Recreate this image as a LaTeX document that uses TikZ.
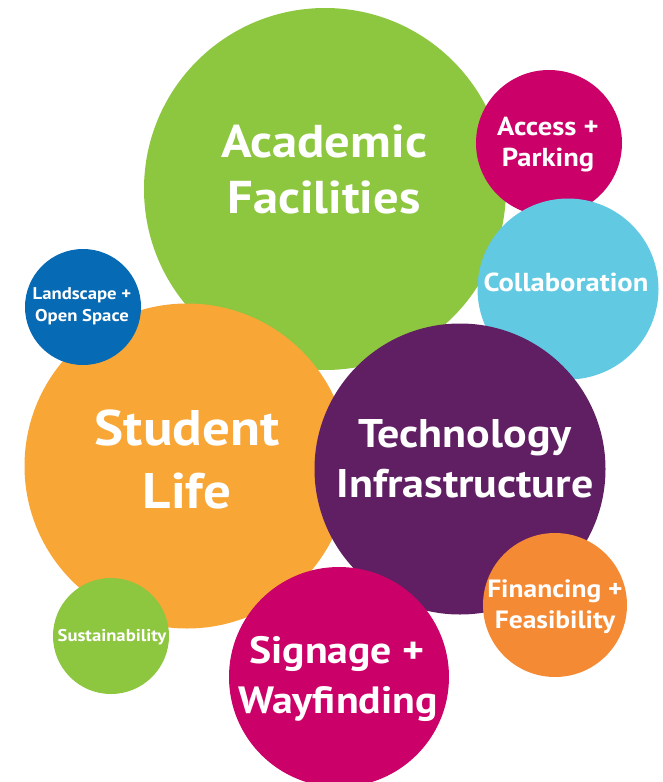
\documentclass[tikz,border=0pt]{standalone}
\usepackage{fontspec}
\setmainfont{PT Sans}[FakeStretch=1.1]
\definecolor{cgreen}{HTML}{8DC63F}
\definecolor{cmagenta}{HTML}{CB0068}
\definecolor{cltblue}{HTML}{62C9E2}
\definecolor{cblue}{HTML}{066AB4}
\definecolor{corange}{HTML}{F8A635}
\definecolor{cpurple}{HTML}{611F63}
\definecolor{cdkorange}{HTML}{F58A35}
\tikzset{
  bubble/.style={circle, inner sep=0pt, draw=none, minimum size=#1},
  lbl/.style={text=white, inner sep=0pt, anchor=base, font=\bfseries\fontsize{#1}{#1}\selectfont}
}
\begin{document}
\begin{tikzpicture}[x=1pt,y=-1pt]
\useasboundingbox (0,0) rectangle (662,782);
% circles
\node[bubble=362pt, fill=cgreen] (acad) at (325,189) {};
\node[bubble=146pt, fill=cmagenta] (access) at (549,143) {};
\node[bubble=181pt, fill=cltblue] (collab) at (568,289) {};
\node[bubble=325pt, fill=corange] (student) at (187,466) {};
\node[bubble=116pt, fill=cblue] (land) at (83,307) {};
\node[bubble=291pt, fill=cpurple] (tech) at (460,469) {};
\node[bubble=116pt, fill=cgreen] (sust) at (111,636) {};
\node[bubble=220pt, fill=cmagenta] (sign) at (339,677) {};
\node[bubble=144pt, fill=cdkorange] (fin) at (555,605) {};
% labels
\node[lbl=46] (acad1) at (324,157) {Academic};
\node[lbl=46] (acad2) at (324,213) {Facilities};
\node[lbl=26] (access1) at (548,135) {Access +};
\node[lbl=26] (access2) at (548,166) {Parking};
\node[lbl=26] (collab1) at (566,291) {Collaboration};
\node[lbl=17] (land1) at (82,299) {Landscape +};
\node[lbl=17] (land2) at (82,321) {Open Space};
\node[lbl=50] (student1) at (187,445) {Student};
\node[lbl=50] (student2) at (187,508) {Life};
\node[lbl=40] (tech1) at (465,447) {Technology};
\node[lbl=40] (tech2) at (465,497) {Infrastructure};
\node[lbl=25] (fin1) at (555,597) {Financing +};
\node[lbl=25] (fin2) at (555,628) {Feasibility};
\node[lbl=17] (sust1) at (112,641) {Sustainability};
\node[lbl=38] (sign1) at (337,663) {Signage +};
\node[lbl=38] (sign2) at (338,713) {Wayfinding};
\end{tikzpicture}
\end{document}
